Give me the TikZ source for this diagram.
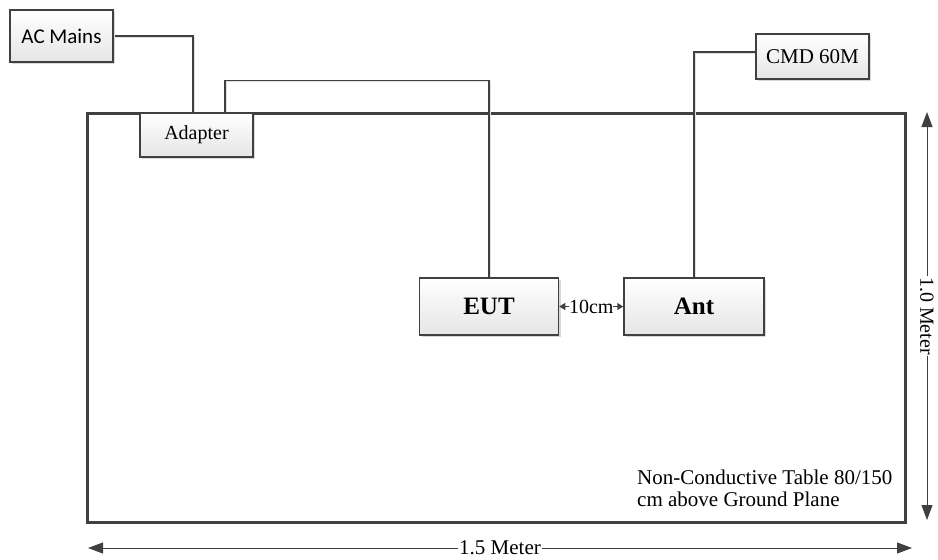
\documentclass[tikz,border=0pt]{standalone}
\usepackage{fontspec}
\setmainfont{Liberation Serif}
\newfontfamily\calfont{Carlito}
\usetikzlibrary{arrows.meta,shadows,backgrounds}
\definecolor{ln}{HTML}{404040}
\begin{document}
\begin{tikzpicture}[x=1pt,y=-1pt,
  box/.style={draw=ln, line width=1.5pt, top color=white, bottom color=black!10,
    drop shadow={shadow xshift=2pt,shadow yshift=-2pt,fill=black!15,opacity=1},
    inner sep=0pt, font=\fontsize{21}{23}\selectfont},
  wire/.style={draw=ln, line width=1.3pt,
    preaction={draw=black!12, line width=1.3pt, transform canvas={xshift=1.5pt,yshift=-1.5pt}}},
  dimline/.style={draw=ln, line width=1pt,
    {Triangle[length=15pt,width=11pt]}-{Triangle[length=15pt,width=11pt]}},
  dimlabel/.style={fill=white, inner xsep=1pt, inner ysep=0pt, font=\fontsize{21}{23}\selectfont},
]
\useasboundingbox (0,0) rectangle (938,560);

% boxes
\node[box, minimum width=103pt, minimum height=52pt, font=\calfont\fontsize{21}{23}\selectfont] (acm) at (61.5,36) {AC Mains};
\node[box, minimum width=113pt, minimum height=45pt] (cmd) at (812.5,56.5) {CMD 60M};
\node[box, minimum width=139pt, minimum height=57pt, font=\bfseries\fontsize{25}{27}\selectfont] (eut) at (489,306.5) {EUT};
\node[box, minimum width=140pt, minimum height=57pt, font=\bfseries\fontsize{25}{27}\selectfont] (ant) at (694,306.5) {Ant};

\begin{pgfonlayer}{background}
  \node[draw=ln, line width=3pt, minimum width=818pt, minimum height=409pt, inner sep=0pt] (table) at (496,317.5) {};
\end{pgfonlayer}

\node[box, minimum width=113pt, minimum height=44pt, font=\fontsize{20}{22}\selectfont] (adapter) at (196.5,135) {Adapter};

\begin{pgfonlayer}{background}
  \draw[wire] (acm.east) -| ([xshift=-3.5pt]adapter.north);
  \draw[wire] ([xshift=28.5pt]adapter.north) -- ++(0,-32) -| (eut.north);
  \draw[wire] ([yshift=4.5pt]cmd.west) -| (ant.north);
\end{pgfonlayer}

% 10cm spacing
\draw[draw=ln, line width=1.2pt, {Triangle[length=6pt,width=7pt]}-{Triangle[length=6pt,width=7pt]}]
  (eut.east) -- node[fill=white, inner sep=0pt, font=\fontsize{20}{22}\selectfont] (gap) {10cm} (ant.west);

% dimensions
\coordinate (h1) at (88,548);
\coordinate (h2) at (912,548);
\coordinate (v1) at (927,112);
\coordinate (v2) at (927,520);
\draw[dimline] (h1) -- node[dimlabel] (hl) {1.5 Meter} (h2);
\draw[dimline] (v1) -- node[dimlabel, rotate=-90, font=\fontsize{20}{22}\selectfont] (vl) {1.0 Meter} (v2);

% note
\node[anchor=north west, align=left, inner sep=0pt, font=\fontsize{21}{22}\selectfont] (note) at (637,470)
  {Non-Conductive Table 80/150\\cm above Ground Plane};
\end{tikzpicture}
\end{document}
